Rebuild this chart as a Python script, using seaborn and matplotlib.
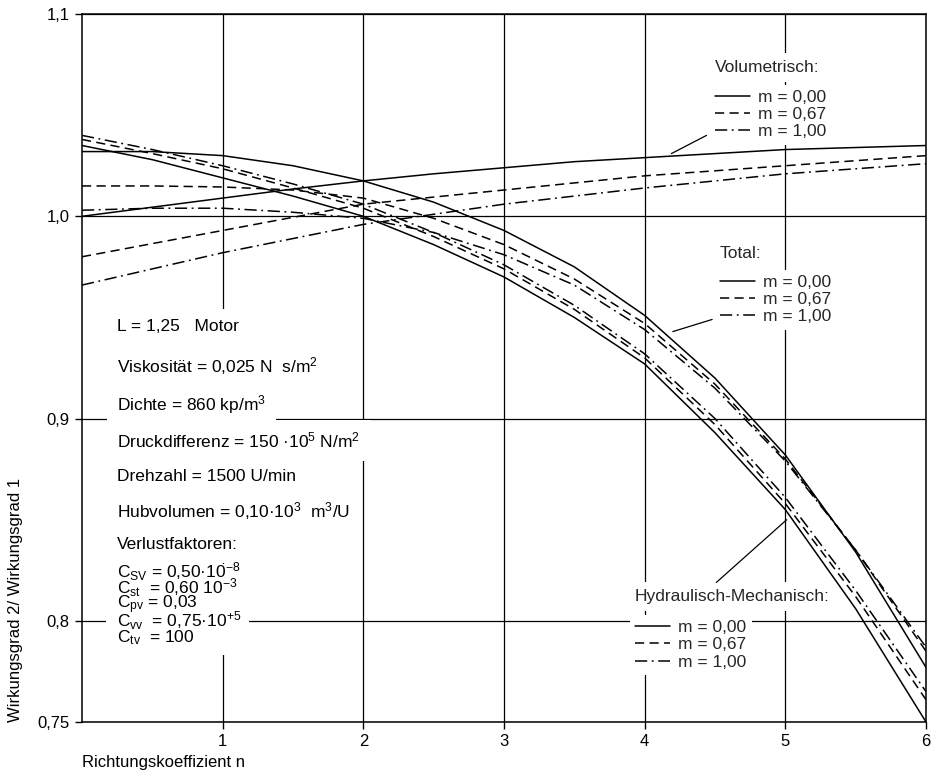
import matplotlib
matplotlib.use("Agg")
import matplotlib.pyplot as plt
from matplotlib.patches import Rectangle
import seaborn as sns

# Richtungskoeffizient n
n = [0.0, 0.5, 1.0, 1.5, 2.0, 2.5, 3.0, 3.5, 4.0, 4.5, 5.0, 5.5, 6.0]

# Volumetrisch (m = 0,00 / 0,67 / 1,00)
vol_m000 = [1.000, 1.0045, 1.009, 1.0135, 1.0175, 1.021, 1.024, 1.027, 1.029, 1.031, 1.033, 1.034, 1.035]
vol_m067 = [0.980, 0.9865, 0.993, 0.9995, 1.006, 1.0095, 1.013, 1.0165, 1.020, 1.0225, 1.025, 1.0275, 1.030]
vol_m100 = [0.966, 0.974, 0.982, 0.989, 0.996, 1.001, 1.006, 1.010, 1.014, 1.0175, 1.021, 1.0235, 1.026]

# Hydraulisch-Mechanisch
hyd_m000 = [1.035, 1.028, 1.019, 1.010, 1.000, 0.986, 0.970, 0.950, 0.927, 0.893, 0.855, 0.806, 0.750]
hyd_m067 = [1.038, 1.031, 1.0235, 1.014, 1.004, 0.990, 0.974, 0.954, 0.930, 0.897, 0.858, 0.812, 0.761]
hyd_m100 = [1.040, 1.033, 1.025, 1.016, 1.006, 0.992, 0.976, 0.956, 0.932, 0.900, 0.861, 0.815, 0.765]

# Total
tot_m000 = [1.032, 1.032, 1.030, 1.025, 1.0175, 1.007, 0.993, 0.975, 0.951, 0.920, 0.882, 0.834, 0.777]
tot_m067 = [1.015, 1.015, 1.0145, 1.013, 1.009, 0.999, 0.986, 0.969, 0.947, 0.917, 0.880, 0.835, 0.785]
tot_m100 = [1.003, 1.004, 1.004, 1.002, 0.999, 0.992, 0.981, 0.966, 0.944, 0.915, 0.879, 0.835, 0.787]

m_labels = ["m = 0,00", "m = 0,67", "m = 1,00"]
x_ticks = [1, 2, 3, 4, 5, 6]
y_ticks = [0.75, 0.8, 0.9, 1.0, 1.1]
y_ticklabels = ["0,75", "0,8", "0,9", "1,0", "1,1"]

info_lines = [
    "L = 1,25   Motor",
    "Viskosität = 0,025 N  s/m$^2$",
    "Dichte = 860 kp/m$^3$",
    "Druckdifferenz = 150 ·10$^5$ N/m$^2$",
    "Drehzahl = 1500 U/min",
    "Hubvolumen = 0,10·10$^3$  m$^3$/U",
    "Verlustfaktoren:",
]
info_y = [0.558, 0.503, 0.449, 0.398, 0.347, 0.298, 0.250]

loss_lines = [
    r"C$_{\mathrm{SV}}$ = 0,50·10$^{-8}$",
    r"C$_{\mathrm{st}}$  = 0,60 10$^{-3}$",
    r"C$_{\mathrm{pv}}$ = 0,03",
    r"C$_{\mathrm{vv}}$  = 0,75·10$^{+5}$",
    r"C$_{\mathrm{tv}}$  = 100",
]
loss_y = [0.212, 0.189, 0.165, 0.143, 0.119]

sns.set_theme(style="white")
plt.rcParams["font.family"] = ["Liberation Sans", "DejaVu Sans"]
plt.rcParams["mathtext.fontset"] = "custom"
plt.rcParams["mathtext.rm"] = "Liberation Sans"
plt.rcParams["mathtext.it"] = "Liberation Sans:italic"
plt.rcParams["mathtext.bf"] = "Liberation Sans:bold"

fig = plt.figure(figsize=(9.36, 7.71), dpi=100)
ax = fig.add_axes([0.0876, 0.0636, 0.9017, 0.9182])

line_styles = ["-", (0, (6, 3.5)), (0, (8, 3, 1.2, 3))]
groups = {
    "Volumetrisch": [vol_m000, vol_m067, vol_m100],
    "Total": [tot_m000, tot_m067, tot_m100],
    "Hydraulisch-Mechanisch": [hyd_m000, hyd_m067, hyd_m100],
}

handles = {}
for grp, series in groups.items():
    handles[grp] = []
    for lab, ls, vals in zip(m_labels, line_styles, series):
        sns.lineplot(x=n, y=vals, ax=ax, color="black", lw=1.1, linestyle=ls, zorder=3)
        line = ax.lines[-1]
        line.set_label(lab)
        handles[grp].append(line)

ax.set_xlim(0, 6)
ax.set_ylim(0.75, 1.1)
ax.set_xticks(x_ticks)
ax.set_xticklabels([str(t) for t in x_ticks])
ax.set_yticks(y_ticks)
ax.set_yticklabels(y_ticklabels)
ax.set_axisbelow(True)
ax.grid(True, color="black", lw=0.9)
for sp in ax.spines.values():
    sp.set_color("black")
    sp.set_linewidth(1.1)
ax.tick_params(axis="both", direction="out", length=5, width=1, colors="black",
               labelsize=12, bottom=True, left=True, pad=4)

ax.set_xlabel("Richtungskoeffizient n", loc="left", fontsize=12, labelpad=4, color="black")
ax.set_ylabel("Wirkungsgrad 2/ Wirkungsgrad 1", loc="bottom", fontsize=12, labelpad=10, color="black")

# parameter block, white boxes break the grid like in the original
fs = 12.5
for txt, yy in zip(info_lines, info_y):
    ax.text(0.0415, yy, txt, transform=ax.transAxes, fontsize=fs, ha="left", va="center",
            color="black", zorder=5,
            bbox=dict(boxstyle="square,pad=0.6", fc="white", ec="none"))

# the loss factors sit close together: one white patch behind them
ax.add_patch(Rectangle((0.028, 0.0946), 0.170, 0.128, transform=ax.transAxes,
                       fc="white", ec="none", zorder=4))
for txt, yy in zip(loss_lines, loss_y):
    ax.text(0.0415, yy, txt, transform=ax.transAxes, fontsize=fs, ha="left", va="center",
            color="black", zorder=5)


def legend_block(title, lines, x, y_title, y_mid):
    ax.text(x, y_title, title + ":", transform=ax.transAxes, fontsize=fs, ha="left",
            va="center", zorder=6, bbox=dict(boxstyle="square,pad=0.4", fc="white", ec="none"))
    leg = ax.legend(handles=lines, loc="center left", bbox_to_anchor=(x - 0.006, y_mid),
                    fontsize=fs, frameon=True, facecolor="white", edgecolor="none",
                    framealpha=1, fancybox=False, borderpad=0.3, borderaxespad=0,
                    handlelength=2.0, handletextpad=0.5, labelspacing=0.12)
    leg.set_zorder(6)
    ax.add_artist(leg)


legend_block("Volumetrisch", handles["Volumetrisch"], 0.7497, 0.924, 0.858)
legend_block("Total", handles["Total"], 0.7556, 0.662, 0.5965)
legend_block("Hydraulisch-Mechanisch", handles["Hydraulisch-Mechanisch"], 0.6548, 0.1766, 0.109)

# leader lines from the legends to the curves
arrow = dict(arrowstyle="-", color="black", lw=0.9, shrinkA=0, shrinkB=0)
ax.annotate("", xy=(4.19, 1.031), xytext=(4.44, 1.040), arrowprops=arrow, zorder=7)
ax.annotate("", xy=(4.20, 0.943), xytext=(4.48, 0.949), arrowprops=arrow, zorder=7)
ax.annotate("", xy=(5.01, 0.850), xytext=(4.51, 0.819), arrowprops=arrow, zorder=7)

fig.savefig("out.png", dpi=100)
